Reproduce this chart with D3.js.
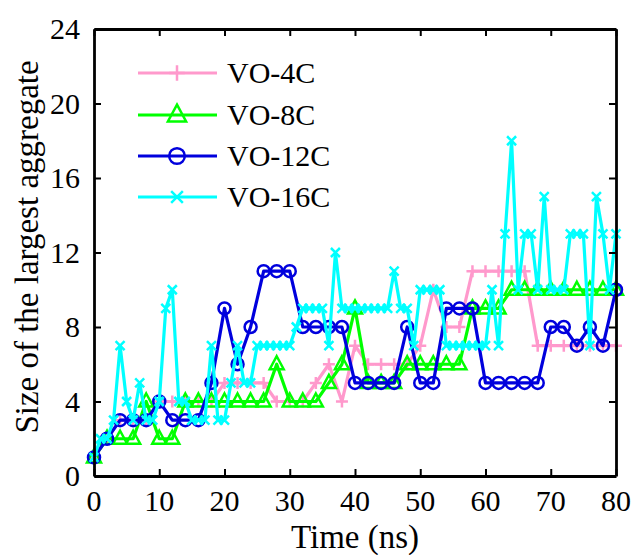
<!DOCTYPE html>
<html>
<head>
<meta charset="utf-8">
<script src="https://cdn.jsdelivr.net/npm/d3@7"></script>
<style>
body { margin: 0; background: #fff; }
svg text { font-family: "Liberation Serif", "Times New Roman", serif; fill: #000; }
</style>
</head>
<body>
<div id="chart"></div>
<script>
// axis ticks
var xTicks = [0, 10, 20, 30, 40, 50, 60, 70, 80];
var yTicks = [0, 4, 8, 12, 16, 20, 24];

// sample times (ns)
var times2 = [0, 2, 4, 6, 8, 10, 12, 14, 16, 18, 20, 22, 24, 26, 28, 30, 32, 34, 36, 38,
              40, 42, 44, 46, 48, 50, 52, 54, 56, 58, 60, 62, 64, 66, 68, 70, 72, 74, 76, 78, 80];
var times1 = [0, 1, 2, 3, 4, 5, 6, 7, 8, 9, 10, 11, 12, 13, 14, 15, 16, 17, 18, 19,
              20, 21, 22, 23, 24, 25, 26, 27, 28, 29, 30, 31, 32, 33, 34, 35, 36, 37, 38, 39,
              40, 41, 42, 43, 44, 45, 46, 47, 48, 49, 50, 51, 52, 53, 54, 55, 56, 57, 58, 59,
              60, 61, 62, 63, 64, 65, 66, 67, 68, 69, 70, 71, 72, 73, 74, 75, 76, 77, 78, 79, 80];

// size of the largest aggregate
var vo4c = [1, 2, 3, 3, 3, 4, 4, 4, 4, 4, 5, 5, 5, 5, 4, 4, 4, 5, 6, 4,
            7, 6, 6, 6, 6, 7, 10, 8, 8, 11, 11, 11, 11, 11, 7, 7, 7, 7, 7, 7, 7];
var vo8c = [1, 2, 2, 2, 4, 2, 2, 4, 4, 4, 4, 4, 4, 4, 6, 4, 4, 4, 5, 6,
            9, 5, 5, 5, 6, 6, 6, 6, 6, 9, 9, 9, 10, 10, 10, 10, 10, 10, 10, 10, 10];
var vo12c = [1, 2, 3, 3, 3, 4, 3, 3, 3, 5, 9, 6, 8, 11, 11, 11, 8, 8, 8, 8,
             5, 5, 5, 5, 8, 5, 5, 9, 9, 9, 5, 5, 5, 5, 5, 8, 8, 7, 8, 7, 10];
var vo16c = [1, 2, 2, 3, 7, 4, 3, 5, 3, 3, 4, 9, 10, 4, 4, 3, 3, 3, 7, 3,
             3, 5, 7, 5, 5, 7, 7, 7, 7, 7, 7, 8, 9, 9, 9, 9, 7, 12, 9, 9,
             9, 9, 9, 9, 9, 9, 11, 9, 9, 7, 10, 10, 10, 10, 7, 7, 7, 7, 7, 7,
             7, 10, 7, 13, 18, 10, 13, 13, 10, 15, 10, 10, 10, 13, 13, 13, 7, 15, 13, 10, 13];

var seriesNames = ["VO-4C", "VO-8C", "VO-12C", "VO-16C"];
var seriesColors = ["#ff99cc", "#00ff00", "#0000dd", "#00ffff"];
var seriesMarkers = ["plus", "triangle", "circle", "cross"];

gen_vis();

function gen_vis() {
  var width = 633,
      height = 555,
      left = 94, right = 616, top = 29, bottom = 476;

  var svg = d3.select("#chart").append("svg")
      .attr("width", width)
      .attr("height", height);

  var x = d3.scaleLinear().domain([0, 80]).range([left, right]);
  var y = d3.scaleLinear().domain([0, 24]).range([bottom, top]);

  var series = [
    {name: seriesNames[0], color: seriesColors[0], marker: seriesMarkers[0], t: times2, v: vo4c},
    {name: seriesNames[1], color: seriesColors[1], marker: seriesMarkers[1], t: times2, v: vo8c},
    {name: seriesNames[2], color: seriesColors[2], marker: seriesMarkers[2], t: times2, v: vo12c},
    {name: seriesNames[3], color: seriesColors[3], marker: seriesMarkers[3], t: times1, v: vo16c}
  ];

  var line = d3.line()
      .x(function (d) { return x(d[0]); })
      .y(function (d) { return y(d[1]); });

  var plot = svg.append("g");

  series.forEach(function (s) {
    var pts = s.t.map(function (t, i) { return [t, s.v[i]]; });
    var g = plot.append("g");
    g.append("path")
      .attr("d", line(pts))
      .attr("fill", "none")
      .attr("stroke", s.color)
      .attr("stroke-width", 3.2)
      .attr("stroke-linejoin", "round");
    pts.forEach(function (p) {
      drawMarker(g, s.marker, x(p[0]), y(p[1]), s.color, 1);
    });
  });

  // box + inward ticks
  var xAxisB = d3.axisBottom(x).tickValues(xTicks).tickSizeInner(-7).tickSizeOuter(0).tickFormat("");
  var xAxisT = d3.axisTop(x).tickValues(xTicks).tickSizeInner(-7).tickSizeOuter(0).tickFormat("");
  var yAxisL = d3.axisLeft(y).tickValues(yTicks).tickSizeInner(-7).tickSizeOuter(0).tickFormat("");
  var yAxisR = d3.axisRight(y).tickValues(yTicks).tickSizeInner(-7).tickSizeOuter(0).tickFormat("");

  svg.append("g").attr("transform", "translate(0," + bottom + ")").call(xAxisB);
  svg.append("g").attr("transform", "translate(0," + top + ")").call(xAxisT);
  svg.append("g").attr("transform", "translate(" + left + ",0)").call(yAxisL);
  svg.append("g").attr("transform", "translate(" + right + ",0)").call(yAxisR);
  svg.selectAll(".domain").attr("stroke", "#000").attr("stroke-width", 2.8);
  svg.selectAll(".tick line").attr("stroke", "#000").attr("stroke-width", 2);

  // tick labels
  svg.append("g").selectAll("text")
    .data(xTicks).enter().append("text")
      .attr("x", function (d) { return x(d); })
      .attr("y", 511)
      .attr("text-anchor", "middle")
      .style("font-size", "30px")
      .text(function (d) { return d; });

  svg.append("g").selectAll("text")
    .data(yTicks).enter().append("text")
      .attr("x", 80)
      .attr("y", function (d) { return y(d) + 10; })
      .attr("text-anchor", "end")
      .style("font-size", "30px")
      .text(function (d) { return d; });

  svg.append("text")
    .attr("x", 355)
    .attr("y", 548)
    .attr("text-anchor", "middle")
    .style("font-size", "33px")
    .text("Time (ns)");

  svg.append("text")
    .attr("transform", "translate(38,247) rotate(-90)")
    .attr("text-anchor", "middle")
    .style("font-size", "33px")
    .text("Size of the largest aggregate");

  // legend
  var rows = [73, 115, 156, 197];
  series.forEach(function (s, i) {
    var lg = svg.append("g");
    lg.append("line")
      .attr("x1", 138).attr("x2", 217)
      .attr("y1", rows[i]).attr("y2", rows[i])
      .attr("stroke", s.color)
      .attr("stroke-width", 3.2);
    drawMarker(lg, s.marker, 177, rows[i], s.color, 1.3);
    lg.append("text")
      .attr("x", 227)
      .attr("y", rows[i] + 10)
      .style("font-size", "30px")
      .text(s.name);
  });
}

function drawMarker(g, type, cx, cy, color, k) {
  var m;
  if (type == "circle") {
    m = g.append("circle").attr("cx", cx).attr("cy", cy).attr("r", 6 * k);
  } else {
    var d;
    if (type == "plus") d = "M-6,0H6M0,-6V6";
    else if (type == "triangle") d = "M0,-8L7,5H-7Z";
    else d = "M-4.5,-4.5L4.5,4.5M4.5,-4.5L-4.5,4.5";
    m = g.append("path").attr("d", d)
      .attr("transform", "translate(" + cx + "," + cy + ") scale(" + k + ")");
  }
  m.attr("fill", "none")
    .attr("stroke", color)
    .attr("stroke-width", 2.5 / (type == "circle" ? 1 : k));
}
</script>
</body>
</html>
